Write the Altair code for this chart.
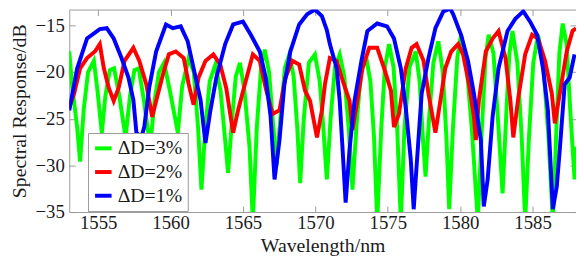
import altair as alt
import pandas as pd

labels = ["ΔD=3%", "ΔD=2%", "ΔD=1%"]
colors = ["#00ff00", "#ff0000", "#0000ff"]

x_ticks = [1555, 1560, 1565, 1570, 1575, 1580, 1585]
y_ticks = [-35, -30, -25, -20, -15]

green_wl = [1553.00, 1553.20, 1553.55, 1553.75, 1554.00, 1554.30, 1554.70, 1554.95, 1555.25, 1555.50,
            1555.80, 1556.10, 1556.45, 1556.89, 1557.20, 1557.50, 1557.80, 1558.15, 1558.59, 1558.90,
            1559.20, 1559.55, 1559.95, 1560.50, 1560.80, 1561.25, 1561.60, 1561.90, 1562.13, 1562.40,
            1562.70, 1563.09, 1563.45, 1563.75, 1563.97, 1564.25, 1564.50, 1564.79, 1565.10, 1565.45,
            1565.68, 1565.95, 1566.25, 1566.50, 1566.80, 1567.05, 1567.32, 1567.60, 1567.90, 1568.20,
            1568.50, 1568.75, 1568.95, 1569.20, 1569.55, 1569.97, 1570.30, 1570.55, 1570.79, 1571.05,
            1571.35, 1571.68, 1572.00, 1572.30, 1572.56, 1572.85, 1573.15, 1573.52, 1573.80, 1574.05,
            1574.27, 1574.55, 1574.80, 1575.09, 1575.40, 1575.65, 1575.90, 1576.15, 1576.50, 1576.93,
            1577.20, 1577.40, 1577.61, 1577.85, 1578.15, 1578.49, 1578.80, 1579.05, 1579.24, 1579.50,
            1579.80, 1580.06, 1580.40, 1580.80, 1581.22, 1581.50, 1581.75, 1581.97, 1582.30, 1582.65,
            1582.93, 1583.20, 1583.40, 1583.61, 1583.95, 1584.25, 1584.49, 1584.75, 1585.05, 1585.38,
            1585.75, 1586.10, 1586.40, 1586.65, 1586.85, 1587.08, 1587.35, 1587.60, 1587.90, 1588.00]
green_db = [-17.8, -21.5, -26.0, -29.6, -24.0, -20.0, -18.8, -22.0, -26.5, -22.5,
            -19.8, -19.6, -22.5, -27.0, -22.5, -19.8, -19.6, -23.0, -28.0, -23.0,
            -20.0, -19.0, -22.0, -26.5, -21.5, -18.5, -20.0, -26.0, -32.6, -26.0,
            -21.0, -19.2, -22.0, -27.0, -30.8, -25.0, -20.5, -19.0, -22.0, -28.0,
            -36.0, -26.0, -19.5, -17.6, -20.0, -25.0, -30.0, -24.5, -19.5, -18.1,
            -20.5, -26.0, -31.9, -25.0, -19.0, -18.1, -21.0, -26.0, -31.5, -25.0,
            -19.5, -18.1, -20.5, -26.0, -32.6, -25.5, -20.0, -18.5, -21.0, -27.0,
            -36.0, -26.0, -19.5, -17.0, -19.5, -26.0, -36.0, -26.0, -19.5, -17.8,
            -21.0, -26.5, -31.2, -25.0, -19.0, -16.7, -20.0, -27.0, -34.7, -26.0,
            -18.5, -16.0, -18.5, -26.0, -36.0, -26.0, -18.5, -16.0, -18.0, -26.0,
            -33.0, -24.0, -18.0, -15.6, -19.0, -27.0, -36.0, -27.0, -19.0, -16.0,
            -19.5, -27.0, -36.0, -26.0, -18.0, -14.8, -17.0, -24.0, -31.5, -28.0]

red_wl = [1553.00, 1553.34, 1553.75, 1554.23, 1554.77, 1555.11, 1555.39, 1555.73, 1556.07, 1556.41,
          1556.82, 1557.43, 1557.84, 1558.32, 1558.73, 1559.00, 1559.48, 1559.88, 1560.36, 1560.91,
          1561.25, 1561.59, 1561.93, 1562.41, 1562.95, 1563.43, 1563.84, 1564.32, 1564.66, 1565.13,
          1565.68, 1566.16, 1566.57, 1567.04, 1567.52, 1567.93, 1568.41, 1568.88, 1569.29, 1569.63,
          1570.11, 1570.45, 1570.66, 1571.00, 1571.47, 1571.88, 1572.36, 1572.56, 1572.90, 1573.25,
          1573.72, 1574.27, 1574.75, 1575.22, 1575.43, 1575.77, 1576.24, 1576.65, 1576.99, 1577.47,
          1577.81, 1578.29, 1578.63, 1578.97, 1579.38, 1579.86, 1580.20, 1580.61, 1580.95, 1581.08,
          1581.29, 1581.77, 1582.24, 1582.65, 1583.13, 1583.47, 1583.67, 1584.02, 1584.49, 1584.97,
          1585.38, 1585.86, 1586.33, 1586.54, 1586.88, 1587.36, 1587.76, 1588.00]
red_db = [-23.8, -22.3, -19.6, -18.5, -17.8, -17.0, -19.6, -21.7, -23.1, -21.7,
          -18.8, -17.4, -18.8, -21.3, -24.8, -23.1, -20.2, -18.1, -17.8, -18.5,
          -21.3, -23.5, -20.6, -18.8, -18.1, -19.2, -21.7, -26.5, -24.1, -21.3,
          -18.1, -18.8, -21.7, -24.5, -24.1, -20.6, -18.8, -19.2, -22.0, -23.1,
          -27.0, -24.1, -21.3, -18.5, -18.8, -20.9, -23.1, -26.2, -23.1, -19.6,
          -17.4, -17.4, -19.6, -22.0, -25.9, -24.5, -19.6, -17.4, -17.0, -18.8,
          -22.3, -26.5, -23.1, -19.6, -17.8, -17.0, -18.1, -21.3, -24.8, -27.3,
          -23.1, -17.8, -16.4, -15.6, -18.5, -23.1, -27.0, -22.7, -18.1, -16.0,
          -16.4, -18.8, -22.3, -25.5, -22.3, -17.8, -15.6, -15.3]

blue_wl = [1553.00, 1553.55, 1554.23, 1555.11, 1555.59, 1556.07, 1556.61, 1557.09, 1557.43, 1557.64,
           1557.98, 1558.18, 1558.52, 1559.00, 1559.68, 1560.16, 1560.70, 1561.18, 1561.59, 1562.07,
           1562.41, 1562.75, 1563.16, 1563.77, 1564.32, 1565.00, 1565.54, 1566.16, 1566.57, 1566.91,
           1567.18, 1567.52, 1567.86, 1568.27, 1568.88, 1569.43, 1569.97, 1570.45, 1570.79, 1571.00,
           1571.47, 1571.68, 1571.88, 1572.09, 1572.36, 1572.70, 1573.18, 1573.59, 1574.27, 1574.95,
           1575.43, 1575.90, 1576.24, 1576.59, 1576.79, 1576.99, 1577.34, 1577.81, 1578.29, 1578.84,
           1579.31, 1579.52, 1580.06, 1580.54, 1580.95, 1581.43, 1581.63, 1581.90, 1582.24, 1582.65,
           1583.27, 1583.81, 1584.36, 1584.83, 1585.31, 1585.72, 1586.06, 1586.40, 1586.67, 1586.88,
           1587.22, 1587.56, 1587.90]
blue_db = [-24.1, -19.6, -16.4, -15.4, -15.3, -16.4, -18.5, -20.6, -23.0, -26.5,
           -27.0, -25.9, -21.7, -17.8, -14.9, -15.3, -15.1, -16.7, -19.6, -23.0,
           -27.6, -24.1, -20.6, -17.0, -14.9, -14.6, -16.0, -17.8, -20.6, -24.8,
           -31.5, -27.3, -21.3, -17.8, -14.9, -13.8, -13.3, -14.0, -15.5, -17.0,
           -19.6, -23.1, -28.3, -34.0, -28.3, -23.1, -18.8, -15.6, -14.8, -15.1,
           -16.4, -19.6, -23.8, -29.4, -34.7, -30.1, -22.3, -18.5, -15.3, -13.5,
           -13.2, -13.8, -16.0, -18.8, -22.3, -27.3, -34.4, -31.5, -24.8, -19.6,
           -15.6, -14.3, -13.5, -14.6, -16.0, -19.6, -24.1, -34.7, -32.3, -28.3,
           -21.3, -20.6, -18.1]

assert len(green_wl) == len(green_db)
assert len(red_wl) == len(red_db)
assert len(blue_wl) == len(blue_db)

font = "Liberation Serif"
gray = "#9a9a9a"
ink = "#1a1a1a"

x_scale = alt.Scale(domain=[1553, 1588], nice=False, zero=False)
y_scale = alt.Scale(domain=[-35, -13.3], nice=False, zero=False)
color_scale = alt.Scale(domain=labels, range=colors)

x_axis = alt.Axis(orient="bottom", values=x_ticks, format="d", title="Wavelength/nm",
                  domain=False, grid=False, ticks=True, tickSize=6, offset=-6,
                  tickColor=gray, labelFont=font, labelFontSize=19, labelColor=ink,
                  labelPadding=2, titleFont=font, titleFontSize=20, titleFontWeight="normal",
                  titleColor=ink, titlePadding=3)
y_axis = alt.Axis(orient="left", values=y_ticks, title="Spectral Response/dB",
                  domain=False, grid=False, ticks=True, tickSize=6, offset=-6,
                  tickColor=gray, labelFont=font, labelFontSize=19, labelColor=ink,
                  labelPadding=5, titleFont=font, titleFontSize=20, titleFontWeight="normal",
                  titleColor=ink, titlePadding=6)
x_axis_top = alt.Axis(orient="top", values=x_ticks, title=None, labels=False,
                      domain=False, grid=False, ticks=True, tickSize=6, offset=-6,
                      tickColor=gray)
y_axis_right = alt.Axis(orient="right", values=y_ticks, title=None, labels=False,
                        domain=False, grid=False, ticks=True, tickSize=6, offset=-6,
                        tickColor=gray)

legend = alt.Legend(title=None, orient="none", legendX=19, legendY=125,
                    labelFont=font, labelFontSize=20, labelColor=ink)


def series_chart(wl, db, label, with_axes):
    df = pd.DataFrame({"wl": wl, "db": db, "series": label})
    return alt.Chart(df).mark_line(strokeWidth=4, clip=True).encode(
        x=alt.X("wl:Q", scale=x_scale, axis=x_axis if with_axes else None),
        y=alt.Y("db:Q", scale=y_scale, axis=y_axis if with_axes else None),
        color=alt.Color("series:N", scale=color_scale, legend=legend, sort=labels),
    )


green = series_chart(green_wl, green_db, labels[0], True)
red = series_chart(red_wl, red_db, labels[1], False)
blue = series_chart(blue_wl, blue_db, labels[2], False)

mirror = alt.Chart(pd.DataFrame({"wl": x_ticks[:2], "db": y_ticks[:2]})).mark_point(opacity=0).encode(
    x=alt.X("wl:Q", scale=x_scale, axis=x_axis_top),
    y=alt.Y("db:Q", scale=y_scale, axis=y_axis_right),
)

chart = alt.layer(green, red, blue, mirror).resolve_axis(
    x="independent", y="independent"
).properties(
    width=513, height=205,
    autosize=alt.AutoSizeParams(type="none"),
    padding={"left": 62, "top": 0, "right": 0, "bottom": 48},
    background="white",
).configure(font=font).configure_view(stroke=gray, strokeWidth=1).configure_legend(
    strokeColor=gray, fillColor="white", padding=5,
    symbolType="stroke", symbolStrokeWidth=4, symbolSize=280,
    labelFont=font, labelFontSize=20, labelColor=ink, labelOffset=4,
    rowPadding=3, cornerRadius=0, labelLimit=200,
)

chart.save("out.html", embed_options={"renderer": "svg", "actions": False})
